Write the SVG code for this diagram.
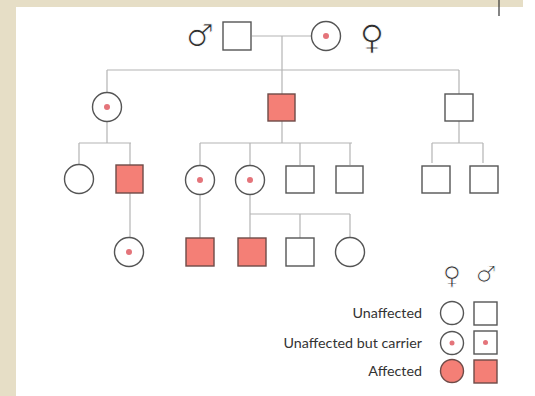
<svg xmlns="http://www.w3.org/2000/svg" width="535" height="396" viewBox="0 0 535 396">
  <defs>
    <style>
      .link { fill: none; stroke: #b4b4b4; stroke-width: 1.2; }
      .plain { fill: #ffffff; stroke: #555555; stroke-width: 1.4; }
      .hit { fill: #f47f76; stroke: #6e4b48; stroke-width: 1.4; }
      .dot { fill: #e4747a; }
      .sym { font-family: "DejaVu Sans", sans-serif; fill: #2e2e2e; stroke: #ffffff; stroke-width: 0.9; text-anchor: middle; }
      .key { font-family: Lato, "Liberation Sans", sans-serif; font-size: 14.3px; fill: #333333; text-anchor: end; }
    </style>
  </defs>

  <!-- page backdrop and white panel -->
  <rect x="0" y="0" width="535" height="396" fill="#e6dec6"/>
  <rect x="16" y="7" width="507" height="389" fill="#ffffff"/>
  <rect x="523" y="0" width="12" height="396" fill="#ffffff"/>
  <line x1="499" y1="0" x2="499" y2="16" stroke="#333333" stroke-width="1.2"/>

  <!-- connectors -->
  <g id="connectors" class="link">
    <path d="M252 36 H311"/>
    <path d="M282 36 V70"/>
    <path d="M107 70 H459"/>
    <path d="M107 70 V93 M282 70 V94 M459 70 V94"/>
    <!-- generation II sibships -->
    <path d="M107 122 V143 M79 143 H131 M79 143 V165 M130 143 V165"/>
    <path d="M282 121 V143 M200 143 H352 M200 143 V165 M250 143 V165 M300 143 V165 M350 143 V165"/>
    <path d="M459 121 V143 M432 143 H483 M432 143 V163 M483 143 V163"/>
    <!-- generation III descents -->
    <path d="M130 193 V237"/>
    <path d="M200 195 V238"/>
    <path d="M250 195 V214 H350 M250 214 V238 M300 214 V238 M350 214 V238"/>
  </g>

  <!-- generation I -->
  <g id="father">
    <text class="sym" x="200" y="46" font-size="31">♂</text>
    <rect class="plain" x="223" y="22" width="28" height="28"/>
  </g>
  <g id="mother">
    <circle class="plain" cx="326" cy="36" r="14.5"/>
    <circle class="dot" cx="326" cy="36" r="3"/>
    <text class="sym" x="372" y="49" font-size="34">♀</text>
  </g>

  <!-- generation II -->
  <g id="daughter-1">
    <circle class="plain" cx="107" cy="107" r="14.5"/>
    <circle class="dot" cx="107" cy="107" r="3"/>
  </g>
  <g id="son-2"><rect class="hit" x="268" y="94" width="27" height="27"/></g>
  <g id="son-3"><rect class="plain" x="445" y="94" width="28" height="27"/></g>

  <!-- generation III -->
  <g id="g3-1"><circle class="plain" cx="79" cy="179" r="14.5"/></g>
  <g id="g3-2"><rect class="hit" x="116" y="165" width="27" height="28"/></g>
  <g id="g3-3">
    <circle class="plain" cx="200" cy="180" r="14.5"/>
    <circle class="dot" cx="200" cy="180" r="3"/>
  </g>
  <g id="g3-4">
    <circle class="plain" cx="250" cy="180" r="14.5"/>
    <circle class="dot" cx="250" cy="180" r="3"/>
  </g>
  <g id="g3-5"><rect class="plain" x="286" y="166" width="28" height="27"/></g>
  <g id="g3-6"><rect class="plain" x="336" y="166" width="27" height="27"/></g>
  <g id="g3-7"><rect class="plain" x="422" y="166" width="28" height="27"/></g>
  <g id="g3-8"><rect class="plain" x="470" y="166" width="28" height="27"/></g>

  <!-- generation IV -->
  <g id="g4-1">
    <circle class="plain" cx="129" cy="252" r="14.5"/>
    <circle class="dot" cx="129" cy="252" r="3"/>
  </g>
  <g id="g4-2"><rect class="hit" x="186" y="238" width="28" height="28"/></g>
  <g id="g4-3"><rect class="hit" x="238" y="238" width="28" height="28"/></g>
  <g id="g4-4"><rect class="plain" x="286" y="238" width="28" height="28"/></g>
  <g id="g4-5"><circle class="plain" cx="350" cy="252" r="14.5"/></g>

  <!-- key -->
  <g id="legend">
    <text class="sym" x="452" y="284" font-size="25" stroke-width="0.7">♀</text>
    <text class="sym" x="486" y="282" font-size="23" stroke-width="0.7">♂</text>
    <text class="key" x="422" y="318">Unaffected</text>
    <text class="key" x="422" y="348">Unaffected but carrier</text>
    <text class="key" x="422" y="376">Affected</text>
    <circle class="plain" cx="452" cy="313" r="11.5" stroke-width="1"/>
    <rect class="plain" x="474" y="302" width="23" height="23" stroke-width="1"/>
    <circle class="plain" cx="452" cy="343" r="11.5" stroke-width="1"/>
    <circle class="dot" cx="452" cy="343" r="2.5"/>
    <rect class="plain" x="474" y="331" width="23" height="23" stroke-width="1"/>
    <circle class="dot" cx="485.5" cy="342.5" r="2.5"/>
    <circle class="hit" cx="452" cy="371" r="11.5" stroke-width="1"/>
    <rect class="hit" x="474" y="360" width="23" height="23" stroke-width="1"/>
  </g>
</svg>
